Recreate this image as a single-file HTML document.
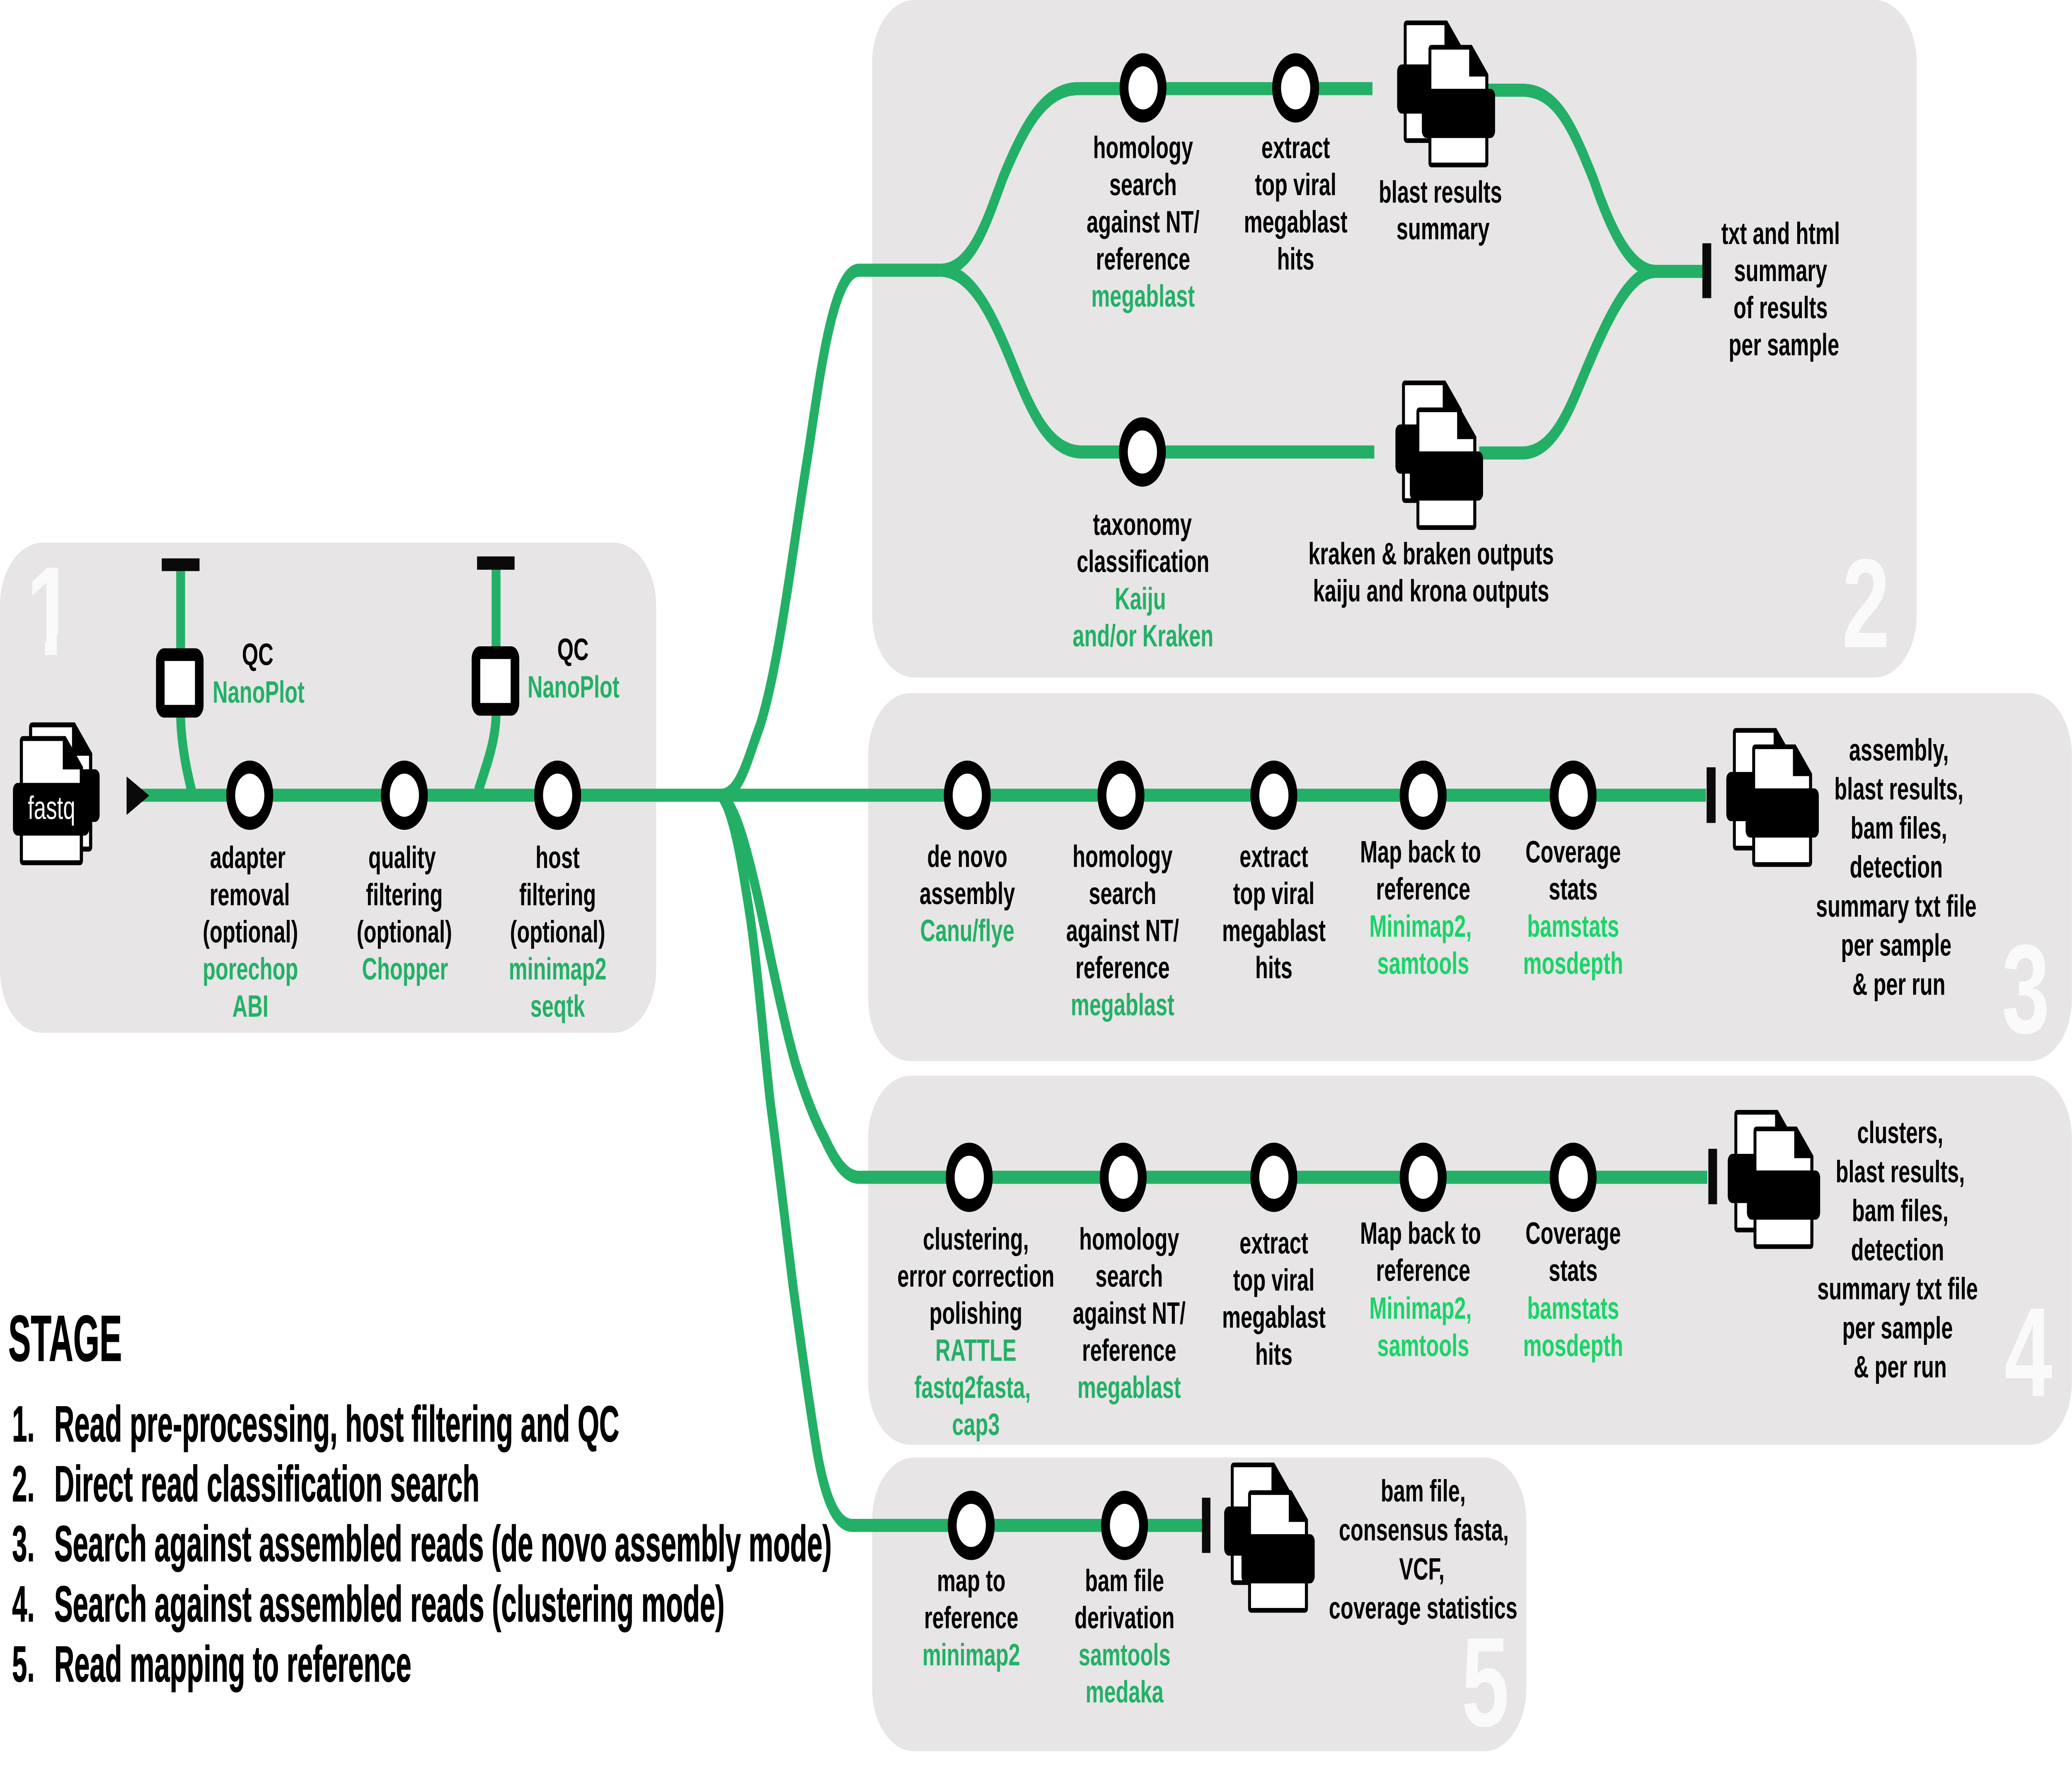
<!DOCTYPE html>
<html><head><meta charset="utf-8"><title>Pipeline diagram</title>
<style>
html,body{margin:0;padding:0;background:#fff;width:100%;height:100%;overflow:hidden}
svg{display:block;width:100vw;height:100vh}
text{font-family:"Liberation Sans",Arial,sans-serif;font-weight:700;font-size:15.85px;text-anchor:middle;fill:#000;text-rendering:geometricPrecision}
.g{fill:#23b066}
.h{fill:#19d468}
.n{fill:#fafafa;font-size:65px}
.s{text-anchor:start;font-size:26px;stroke:#000;stroke-width:.3}
.l{fill:none;stroke:#23b066;stroke-width:6.7}
.c{fill:#fff;stroke:#000;stroke-width:6.7}
</style></head><body>
<svg xmlns="http://www.w3.org/2000/svg" viewBox="0 0 1568 907.6" preserveAspectRatio="none">
<defs>
<g id="d"><path d="M0 2.5Q0 0 2.5 0H32.8L45.3 15V60.2Q45.3 62.7 42.8 62.7H2.5Q0 62.7 0 60.2Z" fill="#000"/><path d="M2.2 2.4H30.8V16.2H43V60.3H2.2Z" fill="#fff"/></g>
<rect id="b" x="-5" y="22.5" width="55.4" height="25.2" rx="3.6" fill="#000"/>
<circle id="o" r="14.4" class="c"/>
</defs>
<g fill="#e7e5e6">
<rect x="0" y="278" width="496.5" height="251" rx="32"/>
<rect x="660" y="0" width="790.5" height="347" rx="32"/>
<rect x="657" y="355" width="910.9" height="188.5" rx="32"/>
<rect x="657" y="551" width="910.9" height="189" rx="32"/>
<rect x="660" y="746.5" width="495" height="150.5" rx="32"/>
</g>
<text class="n" x="38" y="335.5">1</text>
<g fill="#e7e5e6"><rect x="12" y="325" width="22" height="13"/><rect x="43" y="325" width="22" height="13"/></g>
<text class="n" x="1412" y="331.5">2</text>
<text class="n" x="1533" y="529">3</text>
<text class="n" x="1535" y="715">4</text>
<text class="n" x="1124" y="884">5</text>

<path class="l" d="M107 407.3H546"/>
<path class="l" d="M546 407.3H1291"/>
<path class="l" d="M136.7 292V333M136.7 367C137 380 141 394 145 405M375.4 291V332M375.4 366C375 380 368 392 362 405"/>
<path class="l" d="M546 407.3C560 407 566 388 575 372C590 340 600 280 611.4 233C620 195 630 138.4 650 138.4H712"/>
<path class="l" d="M712 138.4C735 138 746 115 759 91C775 65 790 45.4 816 45.4H1038.6"/>
<path class="l" d="M712 138.4C735 139 750 160 765 184.6C780 210 793 231 818 231.5H1040"/>
<path class="l" d="M1126 46.2H1152C1178 46.2 1190 65 1206 92C1220 120 1235 139 1253 139H1288.5"/>
<path class="l" d="M1119.4 232H1152C1178 232 1190 205 1203 185C1220 158 1235 139 1253 139"/>
<path class="l" d="M546 407.5C558 414 566 438 573 458C577 470 580 480 583 490C589 509 596 531 602.5 546C609 560 616 573 624 583C632 595 640 603 650 603H1292"/>
<path class="l" d="M546 407.5C556 417 562 445 568 471C574 500 578 535 583 565C588 590 594 625 600 658C606 688 612 717 617 738C622 760 630 781.3 645 781.3H910"/>

<path d="M95.8 397.7L113 407.5L95.8 417.4Z" fill="#0a0a0a"/>
<g fill="#0a0a0a">
<rect x="122.4" y="286" width="28.6" height="6.5"/>
<rect x="361" y="285" width="28.4" height="6.8"/>
<rect x="1288.3" y="124.6" width="6.7" height="28.1"/>
<rect x="1291.5" y="393" width="6.8" height="28.5"/>
<rect x="1292.8" y="588.4" width="6.6" height="28.4"/>
<rect x="909.6" y="767.1" width="6.4" height="28.3"/>
</g>
<rect x="121.3" y="335.3" width="29.5" height="29" rx="3" fill="#fff" stroke="#000" stroke-width="6.5"/>
<rect x="360.2" y="334.3" width="29.5" height="29" rx="3" fill="#fff" stroke="#000" stroke-width="6.5"/>

<use href="#o" x="189" y="407.3"/><use href="#o" x="306" y="407.3"/><use href="#o" x="422" y="407.3"/>
<use href="#o" x="865" y="45"/><use href="#o" x="980.5" y="45"/><use href="#o" x="864.5" y="231.5"/>
<use href="#o" x="732" y="407.3"/><use href="#o" x="848.3" y="407.3"/><use href="#o" x="964" y="407.3"/><use href="#o" x="1077" y="407.3"/><use href="#o" x="1190.5" y="407.3"/>
<use href="#o" x="733.5" y="603"/><use href="#o" x="850" y="603"/><use href="#o" x="964" y="603"/><use href="#o" x="1077" y="603"/><use href="#o" x="1190.5" y="603"/>
<use href="#o" x="735" y="781.3"/><use href="#o" x="851" y="781.3"/>

<!-- fastq icon -->
<g transform="translate(22 370) scale(1.055)"><use href="#d"/></g>
<rect x="17.7" y="394" width="57.7" height="27" rx="3.6" fill="#000"/>
<g transform="translate(15 377) scale(1.055)"><use href="#d"/></g>
<rect x="9.8" y="401" width="57.7" height="27" rx="3.6" fill="#000"/>
<text x="39" y="419.4" style="fill:#fff;font-weight:400;font-size:16.6px">fastq</text>

<!-- output icons -->
<g><use href="#d" x="1062.3" y="10.5"/><use href="#b" x="1062.3" y="10.5"/><use href="#d" x="1081" y="23"/><use href="#b" x="1081" y="23"/></g>
<g><use href="#d" x="1061" y="194.9"/><use href="#b" x="1061" y="194.9"/><use href="#d" x="1071.9" y="208.7"/><use href="#b" x="1071.9" y="208.7"/></g>
<g><use href="#d" x="1311.4" y="372.9"/><use href="#b" x="1311.4" y="372.9"/><use href="#d" x="1326" y="381.3"/><use href="#b" x="1326" y="381.3"/></g>
<g><use href="#d" x="1312.5" y="568.5"/><use href="#b" x="1312.5" y="568.5"/><use href="#d" x="1327" y="577"/><use href="#b" x="1327" y="577"/></g>
<g><use href="#d" x="931.4" y="749.1"/><use href="#b" x="931.4" y="749.1"/><use href="#d" x="944.5" y="763.3"/><use href="#b" x="944.5" y="763.3"/></g>

<!-- stage 1 -->
<text x="195" y="340.6">QC</text><text class="g" x="195.7" y="359.9">NanoPlot</text>
<text x="433.6" y="338">QC</text><text class="g" x="434" y="357.3">NanoPlot</text>
<text x="187.5" y="444.6">adapter</text><text x="189" y="463.7">removal</text><text x="189.5" y="482.7">(optional)</text><text class="g" x="189.5" y="501.7">porechop</text><text class="g" x="189.5" y="520.8">ABI</text>
<text x="304.3" y="444.6">quality</text><text x="306" y="463.7">filtering</text><text x="306" y="482.7">(optional)</text><text class="g" x="306.5" y="501.7">Chopper</text>
<text x="422" y="444.6">host</text><text x="422" y="463.7">filtering</text><text x="422" y="482.7">(optional)</text><text class="g" x="422" y="501.7">minimap2</text><text class="g" x="422" y="520.8">seqtk</text>

<!-- stage 2 -->
<text x="865" y="81">homology</text><text x="865" y="100">search</text><text x="865" y="119">against NT/</text><text x="865" y="138">reference</text><text class="g" x="865" y="157">megablast</text>
<text x="980.5" y="81">extract</text><text x="980.5" y="100">top viral</text><text x="980.5" y="119">megablast</text><text x="980.5" y="138">hits</text>
<text x="1090" y="103.8">blast results</text><text x="1092" y="122.6">summary</text>
<text x="1347.5" y="125">txt and html</text><text x="1347.5" y="144">summary</text><text x="1347.5" y="163">of results</text><text x="1350" y="182">per sample</text>
<text x="864.5" y="274">taxonomy</text><text x="865" y="293">classification</text><text class="g" x="863" y="312">Kaiju</text><text class="g" x="865" y="331">and/or Kraken</text>
<text x="1083" y="289">kraken &amp; braken outputs</text><text x="1083" y="308">kaiju and krona outputs</text>

<!-- stage 3 -->
<text x="732" y="444">de novo</text><text x="732" y="463">assembly</text><text class="g" x="732" y="482">Canu/flye</text>
<text x="849.5" y="444">homology</text><text x="849.5" y="463">search</text><text x="849.5" y="482">against NT/</text><text x="849.5" y="501">reference</text><text class="g" x="849.5" y="520">megablast</text>
<text x="964" y="444">extract</text><text x="964" y="463">top viral</text><text x="964" y="482">megablast</text><text x="964" y="501">hits</text>
<text x="1075" y="441.7">Map back to</text><text x="1077" y="460.7">reference</text><text class="h" x="1075" y="479.8">Minimap2,</text><text class="h" x="1077" y="498.8">samtools</text>
<text x="1190.5" y="441.7">Coverage</text><text x="1190.5" y="460.7">stats</text><text class="h" x="1190.5" y="479.8">bamstats</text><text class="h" x="1190.5" y="498.8">mosdepth</text>
<text x="1437" y="389.5">assembly,</text><text x="1437" y="409.5">blast results,</text><text x="1437" y="429.5">bam files,</text><text x="1435" y="449.5">detection</text><text x="1435" y="469.5">summary txt file</text><text x="1435" y="489.5">per sample</text><text x="1437" y="509.5">&amp; per run</text>

<!-- stage 4 -->
<text x="738.5" y="640">clustering,</text><text x="738.5" y="659">error correction</text><text x="738.5" y="678">polishing</text><text class="g" x="738.5" y="697">RATTLE</text><text class="g" x="736" y="716">fastq2fasta,</text><text class="g" x="738.5" y="735">cap3</text>
<text x="854.5" y="640">homology</text><text x="854.5" y="659">search</text><text x="854.5" y="678">against NT/</text><text x="854.5" y="697">reference</text><text class="g" x="854.5" y="716">megablast</text>
<text x="964" y="642">extract</text><text x="964" y="661">top viral</text><text x="964" y="680">megablast</text><text x="964" y="699">hits</text>
<text x="1075" y="637">Map back to</text><text x="1077" y="656">reference</text><text class="h" x="1075" y="675.5">Minimap2,</text><text class="h" x="1077" y="694.6">samtools</text>
<text x="1190.5" y="637">Coverage</text><text x="1190.5" y="656">stats</text><text class="h" x="1190.5" y="675.5">bamstats</text><text class="h" x="1190.5" y="694.6">mosdepth</text>
<text x="1438" y="585.5">clusters,</text><text x="1438" y="605.5">blast results,</text><text x="1438" y="625.5">bam files,</text><text x="1436" y="645.5">detection</text><text x="1436" y="665.5">summary txt file</text><text x="1436" y="685.5">per sample</text><text x="1438" y="705.5">&amp; per run</text>

<!-- stage 5 -->
<text x="735" y="815">map to</text><text x="735" y="834">reference</text><text class="g" x="735" y="853">minimap2</text>
<text x="851" y="815">bam file</text><text x="851" y="834">derivation</text><text class="g" x="851" y="853">samtools</text><text class="g" x="851" y="872">medaka</text>
<text x="1077" y="769">bam file,</text><text x="1077.5" y="789">consensus fasta,</text><text x="1076" y="809">VCF,</text><text x="1077" y="829">coverage statistics</text>

<!-- legend -->
<text class="s" style="font-size:33.4px" x="6.3" y="697" textLength="86" lengthAdjust="spacingAndGlyphs">STAGE</text>
<text class="s" x="9.2" y="738.3" textLength="17" lengthAdjust="spacingAndGlyphs">1.</text>
<text class="s" x="41.1" y="738.3" textLength="427.5" lengthAdjust="spacingAndGlyphs">Read pre-processing, host filtering and QC</text>
<text class="s" x="9.2" y="768.9" textLength="17" lengthAdjust="spacingAndGlyphs">2.</text>
<text class="s" x="41.1" y="768.9" textLength="321.8" lengthAdjust="spacingAndGlyphs">Direct read classification search</text>
<text class="s" x="9.2" y="799.6" textLength="17" lengthAdjust="spacingAndGlyphs">3.</text>
<text class="s" x="41.1" y="799.6" textLength="588.3" lengthAdjust="spacingAndGlyphs">Search against assembled reads (de novo assembly mode)</text>
<text class="s" x="9.2" y="830.5" textLength="17" lengthAdjust="spacingAndGlyphs">4.</text>
<text class="s" x="41.1" y="830.5" textLength="507.2" lengthAdjust="spacingAndGlyphs">Search against assembled reads (clustering mode)</text>
<text class="s" x="9.2" y="861.2" textLength="17" lengthAdjust="spacingAndGlyphs">5.</text>
<text class="s" x="41.1" y="861.2" textLength="270.2" lengthAdjust="spacingAndGlyphs">Read mapping to reference</text>
</svg>
</body></html>
